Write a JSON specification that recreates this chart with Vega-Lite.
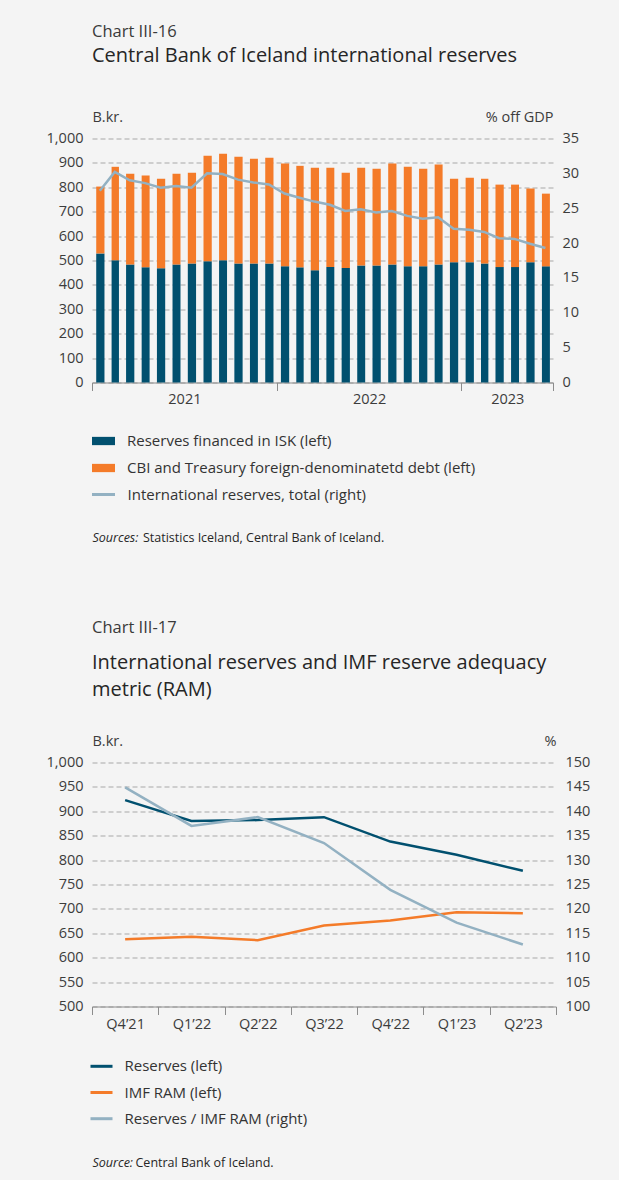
{
  "$schema": "https://vega.github.io/schema/vega-lite/v6.json",
  "background": "#f4f4f4",
  "padding": {"left": 46, "top": 23.5, "right": 40, "bottom": 40},
  "spacing": 75,
  "resolve": {"scale": {"color": "independent", "stroke": "independent"}, "legend": {"color": "independent", "stroke": "independent"}},
  "config": {
    "font": "Open Sans",
    "view": {"stroke": null},
    "axis": {
      "labelFont": "Open Sans",
      "labelFontSize": 14.5,
      "labelColor": "#3c3c3c",
      "titleFont": "Open Sans",
      "titleFontWeight": "normal",
      "titleColor": "#3c3c3c",
      "titleFontSize": 14.5
    },
    "legend": {
      "labelFont": "Open Sans",
      "labelFontSize": 15,
      "labelColor": "#333333",
      "labelLimit": 600
    },
    "title": {
      "font": "Open Sans",
      "fontSize": 16.5,
      "fontWeight": "normal",
      "color": "#3a3a3a",
      "subtitleFont": "Open Sans",
      "subtitleFontSize": 20,
      "subtitleColor": "#262626",
      "subtitlePadding": 6,
      "subtitleLineHeight": 27,
      "anchor": "start",
      "frame": "group"
    }
  },
  "datasets": {
    "bars": [
      {"date": "2021-01-01", "series": "Reserves financed in ISK (left)", "value": 529},
      {"date": "2021-02-01", "series": "Reserves financed in ISK (left)", "value": 501},
      {"date": "2021-03-01", "series": "Reserves financed in ISK (left)", "value": 484},
      {"date": "2021-04-01", "series": "Reserves financed in ISK (left)", "value": 472},
      {"date": "2021-05-01", "series": "Reserves financed in ISK (left)", "value": 468},
      {"date": "2021-06-01", "series": "Reserves financed in ISK (left)", "value": 484},
      {"date": "2021-07-01", "series": "Reserves financed in ISK (left)", "value": 488},
      {"date": "2021-08-01", "series": "Reserves financed in ISK (left)", "value": 497},
      {"date": "2021-09-01", "series": "Reserves financed in ISK (left)", "value": 501},
      {"date": "2021-10-01", "series": "Reserves financed in ISK (left)", "value": 488},
      {"date": "2021-11-01", "series": "Reserves financed in ISK (left)", "value": 488},
      {"date": "2021-12-01", "series": "Reserves financed in ISK (left)", "value": 488},
      {"date": "2022-01-01", "series": "Reserves financed in ISK (left)", "value": 476},
      {"date": "2022-02-01", "series": "Reserves financed in ISK (left)", "value": 472},
      {"date": "2022-03-01", "series": "Reserves financed in ISK (left)", "value": 460},
      {"date": "2022-04-01", "series": "Reserves financed in ISK (left)", "value": 473},
      {"date": "2022-05-01", "series": "Reserves financed in ISK (left)", "value": 469},
      {"date": "2022-06-01", "series": "Reserves financed in ISK (left)", "value": 480},
      {"date": "2022-07-01", "series": "Reserves financed in ISK (left)", "value": 480},
      {"date": "2022-08-01", "series": "Reserves financed in ISK (left)", "value": 484},
      {"date": "2022-09-01", "series": "Reserves financed in ISK (left)", "value": 476},
      {"date": "2022-10-01", "series": "Reserves financed in ISK (left)", "value": 476},
      {"date": "2022-11-01", "series": "Reserves financed in ISK (left)", "value": 484},
      {"date": "2022-12-01", "series": "Reserves financed in ISK (left)", "value": 493},
      {"date": "2023-01-01", "series": "Reserves financed in ISK (left)", "value": 493},
      {"date": "2023-02-01", "series": "Reserves financed in ISK (left)", "value": 488},
      {"date": "2023-03-01", "series": "Reserves financed in ISK (left)", "value": 473},
      {"date": "2023-04-01", "series": "Reserves financed in ISK (left)", "value": 473},
      {"date": "2023-05-01", "series": "Reserves financed in ISK (left)", "value": 493},
      {"date": "2023-06-01", "series": "Reserves financed in ISK (left)", "value": 476},
      {"date": "2021-01-01", "series": "CBI and Treasury foreign-denominatetd debt (left)", "value": 274},
      {"date": "2021-02-01", "series": "CBI and Treasury foreign-denominatetd debt (left)", "value": 383},
      {"date": "2021-03-01", "series": "CBI and Treasury foreign-denominatetd debt (left)", "value": 372},
      {"date": "2021-04-01", "series": "CBI and Treasury foreign-denominatetd debt (left)", "value": 376},
      {"date": "2021-05-01", "series": "CBI and Treasury foreign-denominatetd debt (left)", "value": 367},
      {"date": "2021-06-01", "series": "CBI and Treasury foreign-denominatetd debt (left)", "value": 372},
      {"date": "2021-07-01", "series": "CBI and Treasury foreign-denominatetd debt (left)", "value": 372},
      {"date": "2021-08-01", "series": "CBI and Treasury foreign-denominatetd debt (left)", "value": 432},
      {"date": "2021-09-01", "series": "CBI and Treasury foreign-denominatetd debt (left)", "value": 436},
      {"date": "2021-10-01", "series": "CBI and Treasury foreign-denominatetd debt (left)", "value": 437},
      {"date": "2021-11-01", "series": "CBI and Treasury foreign-denominatetd debt (left)", "value": 429},
      {"date": "2021-12-01", "series": "CBI and Treasury foreign-denominatetd debt (left)", "value": 433},
      {"date": "2022-01-01", "series": "CBI and Treasury foreign-denominatetd debt (left)", "value": 422},
      {"date": "2022-02-01", "series": "CBI and Treasury foreign-denominatetd debt (left)", "value": 416},
      {"date": "2022-03-01", "series": "CBI and Treasury foreign-denominatetd debt (left)", "value": 420},
      {"date": "2022-04-01", "series": "CBI and Treasury foreign-denominatetd debt (left)", "value": 407},
      {"date": "2022-05-01", "series": "CBI and Treasury foreign-denominatetd debt (left)", "value": 391},
      {"date": "2022-06-01", "series": "CBI and Treasury foreign-denominatetd debt (left)", "value": 400},
      {"date": "2022-07-01", "series": "CBI and Treasury foreign-denominatetd debt (left)", "value": 396},
      {"date": "2022-08-01", "series": "CBI and Treasury foreign-denominatetd debt (left)", "value": 414},
      {"date": "2022-09-01", "series": "CBI and Treasury foreign-denominatetd debt (left)", "value": 408},
      {"date": "2022-10-01", "series": "CBI and Treasury foreign-denominatetd debt (left)", "value": 400},
      {"date": "2022-11-01", "series": "CBI and Treasury foreign-denominatetd debt (left)", "value": 409},
      {"date": "2022-12-01", "series": "CBI and Treasury foreign-denominatetd debt (left)", "value": 342},
      {"date": "2023-01-01", "series": "CBI and Treasury foreign-denominatetd debt (left)", "value": 346},
      {"date": "2023-02-01", "series": "CBI and Treasury foreign-denominatetd debt (left)", "value": 347},
      {"date": "2023-03-01", "series": "CBI and Treasury foreign-denominatetd debt (left)", "value": 338},
      {"date": "2023-04-01", "series": "CBI and Treasury foreign-denominatetd debt (left)", "value": 338},
      {"date": "2023-05-01", "series": "CBI and Treasury foreign-denominatetd debt (left)", "value": 302},
      {"date": "2023-06-01", "series": "CBI and Treasury foreign-denominatetd debt (left)", "value": 298}
    ],
    "gdp": [
      {"date": "2021-01-01", "pct": 27.5},
      {"date": "2021-02-01", "pct": 30.2},
      {"date": "2021-03-01", "pct": 29.0},
      {"date": "2021-04-01", "pct": 28.6},
      {"date": "2021-05-01", "pct": 27.95},
      {"date": "2021-06-01", "pct": 28.2},
      {"date": "2021-07-01", "pct": 27.95},
      {"date": "2021-08-01", "pct": 30.0},
      {"date": "2021-09-01", "pct": 29.9},
      {"date": "2021-10-01", "pct": 29.1},
      {"date": "2021-11-01", "pct": 28.7},
      {"date": "2021-12-01", "pct": 28.4},
      {"date": "2022-01-01", "pct": 27.1},
      {"date": "2022-02-01", "pct": 26.5},
      {"date": "2022-03-01", "pct": 25.95},
      {"date": "2022-04-01", "pct": 25.5},
      {"date": "2022-05-01", "pct": 24.6},
      {"date": "2022-06-01", "pct": 24.85},
      {"date": "2022-07-01", "pct": 24.4},
      {"date": "2022-08-01", "pct": 24.6},
      {"date": "2022-09-01", "pct": 23.9},
      {"date": "2022-10-01", "pct": 23.5},
      {"date": "2022-11-01", "pct": 23.7},
      {"date": "2022-12-01", "pct": 22.05},
      {"date": "2023-01-01", "pct": 21.9},
      {"date": "2023-02-01", "pct": 21.6},
      {"date": "2023-03-01", "pct": 20.7},
      {"date": "2023-04-01", "pct": 20.6},
      {"date": "2023-05-01", "pct": 19.9},
      {"date": "2023-06-01", "pct": 19.3}
    ],
    "ramleft": [
      {"q": "Q4’21", "series": "Reserves (left)", "value": 923},
      {"q": "Q1’22", "series": "Reserves (left)", "value": 880},
      {"q": "Q2’22", "series": "Reserves (left)", "value": 882},
      {"q": "Q3’22", "series": "Reserves (left)", "value": 888},
      {"q": "Q4’22", "series": "Reserves (left)", "value": 838},
      {"q": "Q1’23", "series": "Reserves (left)", "value": 811},
      {"q": "Q2’23", "series": "Reserves (left)", "value": 778},
      {"q": "Q4’21", "series": "IMF RAM (left)", "value": 638},
      {"q": "Q1’22", "series": "IMF RAM (left)", "value": 643},
      {"q": "Q2’22", "series": "IMF RAM (left)", "value": 636},
      {"q": "Q3’22", "series": "IMF RAM (left)", "value": 666},
      {"q": "Q4’22", "series": "IMF RAM (left)", "value": 676},
      {"q": "Q1’23", "series": "IMF RAM (left)", "value": 693},
      {"q": "Q2’23", "series": "IMF RAM (left)", "value": 691}
    ],
    "ramratio": [
      {"q": "Q4’21", "series": "Reserves / IMF RAM (right)", "ratio": 144.9},
      {"q": "Q1’22", "series": "Reserves / IMF RAM (right)", "ratio": 137.0},
      {"q": "Q2’22", "series": "Reserves / IMF RAM (right)", "ratio": 138.8},
      {"q": "Q3’22", "series": "Reserves / IMF RAM (right)", "ratio": 133.5},
      {"q": "Q4’22", "series": "Reserves / IMF RAM (right)", "ratio": 123.9},
      {"q": "Q1’23", "series": "Reserves / IMF RAM (right)", "ratio": 117.2},
      {"q": "Q2’23", "series": "Reserves / IMF RAM (right)", "ratio": 112.7}
    ]
  },
  "vconcat": [
    {
      "width": 461,
      "height": 244,
      "title": {
        "text": "Chart III-16",
        "subtitle": "Central Bank of Iceland international reserves",
        "offset": 43.5
      },
      "resolve": {"scale": {"y": "independent"}, "axis": {"x": "independent"}},
      "layer": [
        {
          "data": {"name": "bars"},
          "mark": {"type": "bar", "width": {"band": 0.59}},
          "encoding": {
            "x": {
              "field": "date",
              "timeUnit": "utcyearmonth",
              "type": "temporal",
              "scale": {"type": "utc", "domain": [{"year": 2021, "month": 1, "date": 1, "utc": true}, {"year": 2023, "month": 7, "date": 1, "utc": true}]},
              "axis": {
                "values": [
                  {"year": 2021, "month": 1, "date": 1, "utc": true},
                  {"year": 2022, "month": 1, "date": 1, "utc": true},
                  {"year": 2023, "month": 1, "date": 1, "utc": true},
                  {"year": 2023, "month": 7, "date": 1, "utc": true}
                ],
                "labelExpr": "utcmonth(datum.value) == 6 ? '' : utcFormat(datum.value, '%Y')",
                "labelOffset": {"condition": {"test": "utcyear(datum.value) == 2023", "value": 45.8}, "value": 92.4},
                "labelAlign": "center",
                "labelFlush": false,
                "labelOverlap": false,
                "labelBound": false,
                "labelPadding": 2,
                "tickSize": 8,
                "tickColor": "#8c8c8c",
                "domainColor": "#8c8c8c",
                "grid": false,
                "title": "Sources:",
                "titleFontStyle": "italic",
                "titleFontSize": 12.5,
                "titleColor": "#262626",
                "titleX": 0,
                "titleY": 159,
                "titleAlign": "left",
                "titleAnchor": "start",
                "titleBaseline": "alphabetic"
              }
            },
            "y": {
              "field": "value",
              "type": "quantitative",
              "stack": "zero",
              "scale": {"domain": [0, 1000]},
              "axis": {
                "values": [0, 100, 200, 300, 400, 500, 600, 700, 800, 900, 1000],
                "format": ",.0f",
                "grid": true,
                "gridDash": [5, 3],
                "gridColor": "#a8a8a8",
                "domain": false,
                "ticks": false,
                "labelPadding": 9,
                "title": "B.kr.",
                "titleAngle": 0,
                "titleX": 0,
                "titleY": -17,
                "titleAlign": "left",
                "titleBaseline": "alphabetic"
              }
            },
            "color": {
              "field": "series",
              "type": "nominal",
              "sort": ["Reserves financed in ISK (left)", "CBI and Treasury foreign-denominatetd debt (left)"],
              "scale": {"domain": ["Reserves financed in ISK (left)", "CBI and Treasury foreign-denominatetd debt (left)"], "range": ["#01506f", "#f47b29"]},
              "legend": {
                "orient": "none",
                "legendX": 0,
                "legendY": 291,
                "title": null,
                "direction": "vertical",
                "symbolType": "M-1,-0.36H1V0.36H-1Z",
                "symbolSize": 529,
                "symbolStrokeWidth": 0,
                "labelOffset": 12,
                "rowPadding": 7
              }
            }
          }
        },
        {
          "data": {"name": "gdp"},
          "mark": {"type": "line", "strokeWidth": 2.5},
          "encoding": {
            "x": {
              "field": "date",
              "timeUnit": "utcyearmonth",
              "type": "temporal",
              "bandPosition": 0.5,
              "scale": {"type": "utc", "domain": [{"year": 2021, "month": 1, "date": 1, "utc": true}, {"year": 2023, "month": 7, "date": 1, "utc": true}]},
              "axis": {
                "orient": "top",
                "domain": false,
                "ticks": false,
                "labels": false,
                "grid": false,
                "title": "Statistics Iceland, Central Bank of Iceland.",
                "titleFontSize": 12.5,
                "titleColor": "#262626",
                "titleX": 50.5,
                "titleY": 403,
                "titleAlign": "left",
                "titleAnchor": "start",
                "titleBaseline": "alphabetic"
              }
            },
            "y": {
              "field": "pct",
              "type": "quantitative",
              "scale": {"domain": [0, 35]},
              "axis": {
                "orient": "right",
                "values": [0, 5, 10, 15, 20, 25, 30, 35],
                "grid": false,
                "domain": false,
                "ticks": false,
                "labelPadding": 9,
                "title": "% off GDP",
                "titleAngle": 0,
                "titleX": 0,
                "titleY": -17,
                "titleAlign": "right",
                "titleBaseline": "alphabetic"
              }
            },
            "stroke": {
              "datum": "International reserves, total (right)",
              "scale": {"range": ["#93b1c2"]},
              "legend": {
                "orient": "none",
                "legendX": -1.5,
                "legendY": 343,
                "title": null,
                "symbolType": "stroke",
                "symbolSize": 529,
                "symbolStrokeWidth": 3,
                "labelOffset": 11
              }
            }
          }
        }
      ]
    },
    {
      "width": 464,
      "height": 244,
      "title": {
        "text": "Chart III-17",
        "subtitle": ["International reserves and IMF reserve adequacy", "metric (RAM)"],
        "subtitlePadding": 16,
        "offset": 34
      },
      "resolve": {"scale": {"y": "independent"}, "axis": {"x": "independent"}},
      "layer": [
        {
          "data": {"name": "ramleft"},
          "mark": {"type": "line", "strokeWidth": 2.5},
          "encoding": {
            "x": {
              "field": "q",
              "type": "nominal",
              "scale": {"type": "band", "paddingInner": 0, "paddingOuter": 0, "domain": ["Q4’21", "Q1’22", "Q2’22", "Q3’22", "Q4’22", "Q1’23", "Q2’23"]},
              "axis": {
                "tickBand": "extent",
                "labelAngle": 0,
                "labelPadding": 3,
                "tickSize": 8,
                "tickColor": "#8c8c8c",
                "domainColor": "#8c8c8c",
                "grid": false,
                "title": "Source:",
                "titleFontStyle": "italic",
                "titleFontSize": 12.5,
                "titleColor": "#262626",
                "titleX": 0,
                "titleY": 160,
                "titleAlign": "left",
                "titleAnchor": "start",
                "titleBaseline": "alphabetic"
              }
            },
            "y": {
              "field": "value",
              "type": "quantitative",
              "scale": {"domain": [500, 1000]},
              "axis": {
                "values": [500, 550, 600, 650, 700, 750, 800, 850, 900, 950, 1000],
                "format": ",.0f",
                "grid": true,
                "gridDash": [5, 3],
                "gridColor": "#a8a8a8",
                "domain": false,
                "ticks": false,
                "labelPadding": 9,
                "title": "B.kr.",
                "titleAngle": 0,
                "titleX": 0,
                "titleY": -17,
                "titleAlign": "left",
                "titleBaseline": "alphabetic"
              }
            },
            "color": {
              "field": "series",
              "type": "nominal",
              "scale": {"domain": ["Reserves (left)", "IMF RAM (left)", "Reserves / IMF RAM (right)"], "range": ["#01506f", "#f47b29", "#93b1c2"]},
              "legend": {
                "orient": "none",
                "legendX": -3,
                "legendY": 291.3,
                "title": null,
                "direction": "vertical",
                "symbolType": "stroke",
                "symbolSize": 484,
                "symbolStrokeWidth": 3,
                "labelOffset": 10.5,
                "rowPadding": 5.2
              }
            }
          }
        },
        {
          "data": {"name": "ramratio"},
          "mark": {"type": "line", "strokeWidth": 2.5},
          "encoding": {
            "x": {
              "field": "q",
              "type": "nominal",
              "scale": {"type": "band", "paddingInner": 0, "paddingOuter": 0, "domain": ["Q4’21", "Q1’22", "Q2’22", "Q3’22", "Q4’22", "Q1’23", "Q2’23"]},
              "axis": {
                "orient": "top",
                "domain": false,
                "ticks": false,
                "labels": false,
                "grid": false,
                "title": "Central Bank of Iceland.",
                "titleFontSize": 12.5,
                "titleColor": "#262626",
                "titleX": 43,
                "titleY": 404,
                "titleAlign": "left",
                "titleAnchor": "start",
                "titleBaseline": "alphabetic"
              }
            },
            "y": {
              "field": "ratio",
              "type": "quantitative",
              "scale": {"domain": [100, 150]},
              "axis": {
                "orient": "right",
                "values": [100, 105, 110, 115, 120, 125, 130, 135, 140, 145, 150],
                "grid": false,
                "domain": false,
                "ticks": false,
                "labelPadding": 9,
                "title": "%",
                "titleAngle": 0,
                "titleX": 0,
                "titleY": -17,
                "titleAlign": "right",
                "titleBaseline": "alphabetic"
              }
            },
            "color": {"field": "series", "type": "nominal"}
          }
        }
      ]
    }
  ]
}
